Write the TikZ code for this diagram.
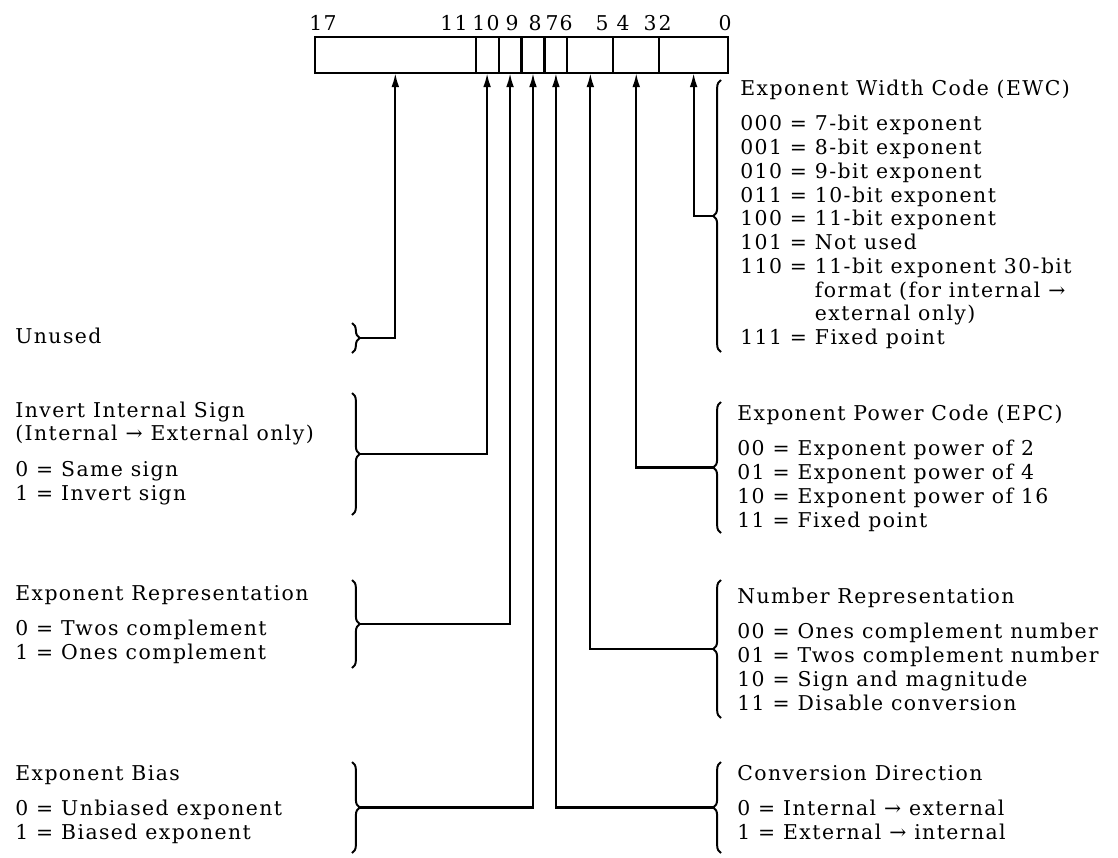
\documentclass[tikz,border=0pt]{standalone}
\usepackage{fontspec}
\setmainfont{DejaVu Serif}[LetterSpace=7]
\usetikzlibrary{positioning,arrows.meta,decorations.pathreplacing}
\newcommand{\bitw}{0.5735cm}
\newcommand{\blkhead}[1]{\multicolumn{3}{@{}l@{}}{#1}}
\tikzset{
  field/.style={draw, line width=1.5pt, minimum height=0.9cm, inner sep=0pt, outer sep=0pt},
  conn/.style={line width=1.5pt, -{Latex[length=10pt,width=5.5pt]}},
  brc/.style={decorate, decoration={brace, amplitude=5.5pt}, line width=1.4pt},
  txt/.style={anchor=base west, inner sep=0pt},
}

\begin{document}
\begin{tikzpicture}[x=0.025cm, y=-0.025cm, font=\fontsize{14.5pt}{16.9pt}\selectfont]
  \useasboundingbox (0,0) rectangle (1118,857);
  % register
  \node[field, minimum width=7*\bitw, anchor=north west] (f17) at (315,37) {};
  \node[field, minimum width=\bitw, right=0pt of f17] (f10) {};
  \node[field, minimum width=\bitw, right=0pt of f10] (f9) {};
  \node[field, minimum width=\bitw, right=0pt of f9] (f8) {};
  \node[field, minimum width=\bitw, right=0pt of f8] (f7) {};
  \node[field, minimum width=2*\bitw, right=0pt of f7] (f65) {};
  \node[field, minimum width=2*\bitw, right=0pt of f65] (f43) {};
  \node[field, minimum width=3*\bitw, right=0pt of f43] (f20) {};
  \foreach \b/\x in {17/323,11/454,10/486,9/512,8/535,7/552,6/566,5/602,4/623,3/650,2/665,0/725}
    \node[anchor=base, inner sep=0pt] (n\b) at (\x,30) {\b};

  % left side
  \node[txt] (unused) at (15,343) {Unused};
  \node[txt] (inv) at (15,417) {\begin{tabular}[t]{@{}l@{\ }l@{\ }l@{}}
    \blkhead{Invert Internal Sign}\\
    \blkhead{(Internal → External only)}\\[8.5pt]
    0 & = & Same sign\\
    1 & = & Invert sign
  \end{tabular}};
  \node[txt] (er) at (15,600) {\begin{tabular}[t]{@{}l@{\ }l@{\ }l@{}}
    \blkhead{Exponent Representation}\\[8.5pt]
    0 & = & Twos complement\\
    1 & = & Ones complement
  \end{tabular}};
  \node[txt] (eb) at (15,780) {\begin{tabular}[t]{@{}l@{\ }l@{\ }l@{}}
    \blkhead{Exponent Bias}\\[8.5pt]
    0 & = & Unbiased exponent\\
    1 & = & Biased exponent
  \end{tabular}};

  % right side
  \node[txt] (ewc) at (740,95) {\begin{tabular}[t]{@{}l@{\ }l@{\ }l@{}}
    \blkhead{Exponent Width Code (EWC)}\\[8.5pt]
    000 & = & 7-bit exponent\\
    001 & = & 8-bit exponent\\
    010 & = & 9-bit exponent\\
    011 & = & 10-bit exponent\\
    100 & = & 11-bit exponent\\
    101 & = & Not used\\
    110 & = & 11-bit exponent 30-bit\\
        &   & format (for internal →\\
        &   & external only)\\
    111 & = & Fixed point
  \end{tabular}};
  \node[txt] (epc) at (737,420) {\begin{tabular}[t]{@{}l@{\ }l@{\ }l@{}}
    \blkhead{Exponent Power Code (EPC)}\\[8.5pt]
    00 & = & Exponent power of 2\\
    01 & = & Exponent power of 4\\
    10 & = & Exponent power of 16\\
    11 & = & Fixed point
  \end{tabular}};
  \node[txt] (nr) at (737,603) {\begin{tabular}[t]{@{}l@{\ }l@{\ }l@{}}
    \blkhead{Number Representation}\\[8.5pt]
    00 & = & Ones complement number\\
    01 & = & Twos complement number\\
    10 & = & Sign and magnitude\\
    11 & = & Disable conversion
  \end{tabular}};
  \node[txt] (cd) at (737,780) {\begin{tabular}[t]{@{}l@{\ }l@{\ }l@{}}
    \blkhead{Conversion Direction}\\[8.5pt]
    0 & = & Internal → external\\
    1 & = & External → internal
  \end{tabular}};

  % braces
  \draw[brc] (352,323) -- (352,353);
  \draw[brc] (352,393) -- (352,515);
  \draw[brc] (352,580) -- (352,668);
  \draw[brc] (352,762) -- (352,853);
  \draw[brc] (721,352) -- (721,80);
  \draw[brc] (721,533) -- (721,402);
  \draw[brc] (721,718) -- (721,580);
  \draw[brc] (721,853) -- (721,762);
  \coordinate (tU) at (360,338);
  \coordinate (tInv) at (360,454);
  \coordinate (tER) at (360,624);
  \coordinate (tEB) at (360,807.5);
  \coordinate (tEWC) at (713,216);
  \coordinate (tEPC) at (713,467.5);
  \coordinate (tNR) at (713,649);
  \coordinate (tCD) at (713,807.5);

  % connectors
  \draw[conn] (tU) -| (f17.south);
  \draw[conn] (tInv) -| (f10.south);
  \draw[conn] (tER) -| (f9.south);
  \draw[conn] (tEB) -| (f8.south);
  \draw[conn] (tCD) -| (f7.south);
  \draw[conn] (tNR) -| (f65.south);
  \draw[conn] (tEPC) -| (f43.south);
  \draw[conn] (tEWC) -| (f20.south);
\end{tikzpicture}
\end{document}
